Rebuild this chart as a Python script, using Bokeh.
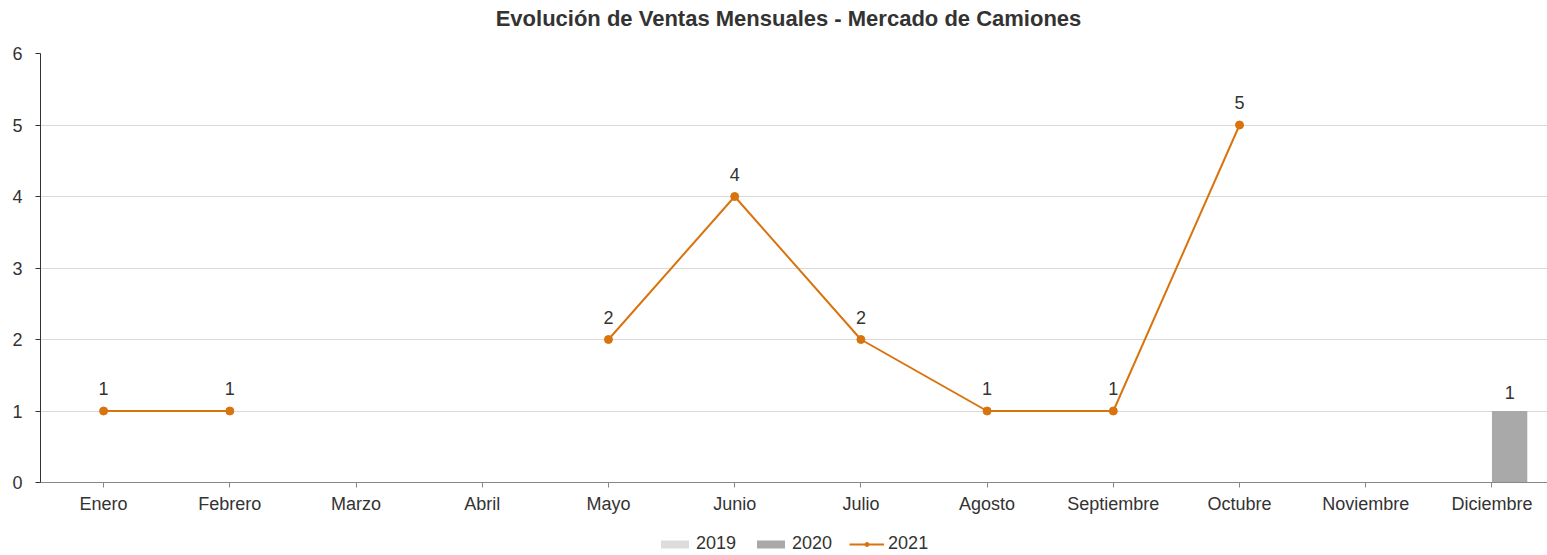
import numpy as np
from bokeh.plotting import figure
from bokeh.layouts import column
from bokeh.models import ColumnDataSource, Range1d, FixedTicker, Legend, LegendItem, Label
from bokeh.transform import dodge
from bokeh.embed import file_html
from bokeh.resources import INLINE

TITLE = "Evolución de Ventas Mensuales - Mercado de Camiones"
months = ["Enero", "Febrero", "Marzo", "Abril", "Mayo", "Junio", "Julio",
          "Agosto", "Septiembre", "Octubre", "Noviembre", "Diciembre"]
series = ["2019", "2020", "2021"]
ventas_2019 = [np.nan] * 12
ventas_2020 = [np.nan, np.nan, np.nan, np.nan, np.nan, np.nan, np.nan, np.nan, np.nan, np.nan, np.nan, 1]
ventas_2021 = [1, 1, np.nan, np.nan, 2, 4, 2, 1, 1, 5, np.nan, np.nan]

FONT = "Liberation Sans"
TXT = "#333333"
ORANGE = "#d9730d"
C2019 = "#dcdcdc"
C2020 = "#a9a9a9"
FS = "18px"
W = 1547


def blank(fig):
    fig.outline_line_color = None
    fig.grid.visible = False
    fig.title.text = ""
    return fig


# ---------- title strip ----------
top = blank(figure(width=W, height=36, frame_width=W, frame_height=36,
                   x_range=Range1d(0, W), y_range=Range1d(0, 36),
                   x_axis_location=None, y_axis_location=None,
                   output_backend="svg", toolbar_location=None,
                   min_border_left=0, min_border_right=0, min_border_top=0, min_border_bottom=0))
top.add_layout(Label(x=748, y=18, text=TITLE, text_align="center", text_baseline="middle",
                     text_font=FONT, text_font_size="22px", text_font_style="bold",
                     text_color=TXT))

# ---------- main chart ----------
idx = list(range(len(months)))
src = ColumnDataSource(dict(
    x=idx,
    y19=ventas_2019,
    y20=ventas_2020,
    y21=ventas_2021,
    l20=["" if np.isnan(v) else f"{v:g}" for v in ventas_2020],
    l21=["" if np.isnan(v) else f"{v:g}" for v in ventas_2021],
))

p = figure(width=W, height=491, frame_width=1507, frame_height=429,
           output_backend="svg", toolbar_location=None,
           x_range=Range1d(-0.5, 11.44), y_range=Range1d(0, 6),
           min_border_left=40, min_border_right=0, min_border_top=17, min_border_bottom=45)
p.title.text = ""
p.outline_line_color = None

p.vbar(x=dodge("x", -0.14), top="y19", width=0.28, source=src, fill_color=C2019, line_color=None)
p.vbar(x=dodge("x", 0.14), top="y20", width=0.28, source=src, fill_color=C2020, line_color=None)
p.line("x", "y21", source=src, line_color=ORANGE, line_width=2)
p.scatter("x", "y21", source=src, size=8, fill_color=ORANGE, line_color=ORANGE)

p.text(x="x", y="y21", text="l21", source=src, text_align="center", text_baseline="bottom",
       y_offset=-16, text_font_size=FS, text_color=TXT, text_font={"value": FONT})
p.text(x=dodge("x", 0.14), y="y20", text="l20", source=src, text_align="center", text_baseline="bottom",
       y_offset=-12, text_font_size=FS, text_color=TXT, text_font={"value": FONT})

p.xaxis.ticker = FixedTicker(ticks=idx)
p.xaxis.major_label_overrides = {i: m for i, m in enumerate(months)}
p.xaxis.major_label_text_font = FONT
p.xaxis.major_label_text_font_size = FS
p.xaxis.major_label_text_color = TXT
p.xaxis.axis_line_color = "#888888"
p.xaxis.major_tick_line_color = "#888888"
p.xaxis.major_tick_in = 0
p.xaxis.major_tick_out = 5
p.xaxis.minor_tick_line_color = None
p.xaxis.major_label_standoff = 6

p.yaxis.ticker = FixedTicker(ticks=[0, 1, 2, 3, 4, 5, 6])
p.yaxis.major_label_text_font = FONT
p.yaxis.major_label_text_font_size = FS
p.yaxis.major_label_text_color = TXT
p.yaxis.axis_line_color = "#333333"
p.yaxis.major_tick_line_color = "#333333"
p.yaxis.major_tick_in = 0
p.yaxis.major_tick_out = 5
p.yaxis.minor_tick_line_color = None
p.yaxis.major_label_standoff = 13

p.xgrid.grid_line_color = None
p.ygrid.grid_line_color = "#d9d9d9"

# ---------- legend strip ----------
leg = blank(figure(width=W, height=28, frame_width=W, frame_height=28,
                   x_range=Range1d(0, 1), y_range=Range1d(0, 1),
                   x_axis_location=None, y_axis_location=None,
                   output_backend="svg", toolbar_location=None,
                   min_border_left=0, min_border_right=0, min_border_top=0, min_border_bottom=0))
# off-screen placeholder data so that the legend swatches are drawn
hidden = ColumnDataSource(dict(x=[-5.0, -4.0], y=[-5.0, -5.0]))
r19 = leg.vbar(x="x", top="y", width=0.1, source=hidden, fill_color=C2019, line_color=None)
r20 = leg.vbar(x="x", top="y", width=0.1, source=hidden, fill_color=C2020, line_color=None)
rl = leg.line("x", "y", source=hidden, line_color=ORANGE, line_width=2)
rc = leg.scatter("x", "y", source=hidden, size=8, fill_color=ORANGE, line_color=ORANGE)

legend = Legend(items=[
    LegendItem(label=series[0], renderers=[r19]),
    LegendItem(label=series[1], renderers=[r20]),
    LegendItem(label=series[2], renderers=[rl, rc]),
], orientation="horizontal", location=(657, 1))
legend.glyph_width = 35
legend.glyph_height = 10
legend.label_text_font = FONT
legend.label_text_font_size = FS
legend.label_text_color = TXT
legend.border_line_color = None
legend.background_fill_alpha = 0
legend.spacing = 17
legend.label_standoff = 4
legend.padding = 2
legend.margin = 0
leg.add_layout(legend, "center")

layout = column(top, p, leg, spacing=0)
open("out.html", "w").write(file_html(layout, INLINE))
